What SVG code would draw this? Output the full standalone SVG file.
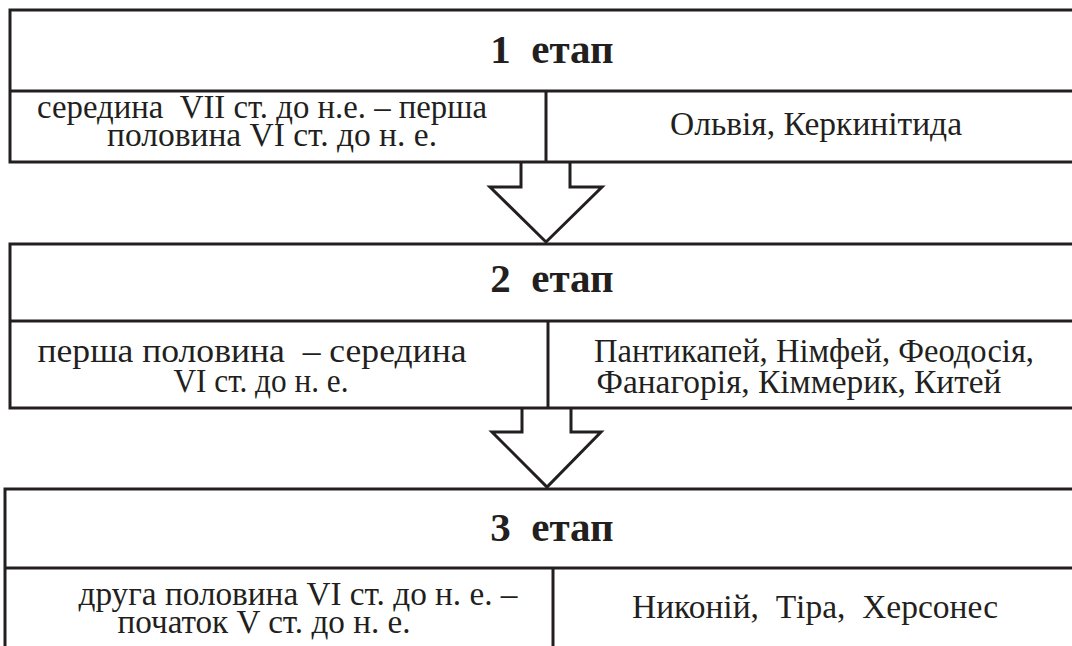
<svg xmlns="http://www.w3.org/2000/svg" width="1072" height="646" viewBox="0 0 1072 646">
<style>
.ln{fill:none;stroke:#231f20;stroke-width:3}
.ar{fill:#ffffff;stroke:#231f20;stroke-width:3;stroke-linejoin:miter}
.t{font-family:'Liberation Serif','Times New Roman',serif;font-size:33px;fill:#231f20;text-anchor:middle}
.h{font-family:'Liberation Serif','Times New Roman',serif;font-size:41px;font-weight:bold;fill:#231f20;text-anchor:middle}
</style>
<rect width="1072" height="646" fill="#ffffff"/>
<g id="connectors">
<polyline class="ar" points="521,163 521,187 490,187 546,242 602,187 570,187 570,163"/>
<polyline class="ar" points="522,409 522,432 492,432 547,487 601,432 571,432 571,409"/>
</g>
<g id="stage1">
<path class="ln" d="M1075,10 H10 V162 H1075 M10,91 H1075 M546,91 V162"/>
<text class="h" x="552" y="63" xml:space="preserve">1  етап</text>
<text class="t" x="262" y="118" textLength="450" lengthAdjust="spacingAndGlyphs" xml:space="preserve">середина  VII ст. до н.е. – перша</text>
<text class="t" x="272" y="146" textLength="330" lengthAdjust="spacingAndGlyphs">половина VI ст. до н. е.</text>
<text class="t" x="816" y="135" textLength="292" lengthAdjust="spacingAndGlyphs">Ольвія, Керкинітида</text>
</g>
<g id="stage2">
<path class="ln" d="M1075,244 H10 V408 H1075 M10,321 H1075 M548,321 V408"/>
<text class="h" x="552" y="292" xml:space="preserve">2  етап</text>
<text class="t" x="252" y="362" textLength="429" lengthAdjust="spacingAndGlyphs" xml:space="preserve">перша половина  – середина</text>
<text class="t" x="261" y="392" textLength="175" lengthAdjust="spacingAndGlyphs">VI ст. до н. е.</text>
<text class="t" x="814" y="362" textLength="440" lengthAdjust="spacingAndGlyphs">Пантикапей, Німфей, Феодосія,</text>
<text class="t" x="799" y="393" textLength="405" lengthAdjust="spacingAndGlyphs">Фанагорія, Кіммерик, Китей</text>
</g>
<g id="stage3">
<path class="ln" d="M1075,489 H5 V650 M5,568 H1075 M553,568 V650"/>
<text class="h" x="552" y="541" xml:space="preserve">3  етап</text>
<text class="t" x="298" y="605" textLength="439" lengthAdjust="spacingAndGlyphs">друга половина VI ст. до н. е. –</text>
<text class="t" x="264" y="633" textLength="293" lengthAdjust="spacingAndGlyphs">початок V ст. до н. е.</text>
<text class="t" x="815" y="618" textLength="366" lengthAdjust="spacingAndGlyphs" xml:space="preserve">Никоній,  Тіра,  Херсонес</text>
</g>
</svg>
